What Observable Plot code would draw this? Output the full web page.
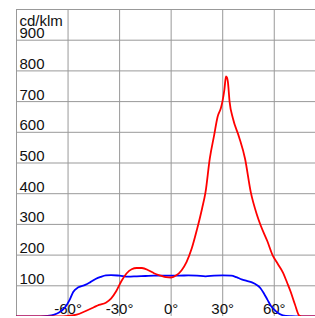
<!DOCTYPE html>
<html>
<head>
<meta charset="utf-8">
<script src="https://cdn.jsdelivr.net/npm/d3@7"></script>
<script src="https://cdn.jsdelivr.net/npm/@observablehq/plot@0.6"></script>
<style>
  html, body { margin: 0; padding: 0; background: #fff; }
  #chart svg { display: block; }
</style>
</head>
<body>
<div id="chart"></div>
<script>
// Tick values
const xTicks = [-90, -60, -30, 0, 30, 60, 90];
const xLabels = [-60, -30, 0, 30, 60];
const yTicks = [0, 100, 200, 300, 400, 500, 600, 700, 800, 900, 1000];
const yLabels = [100, 200, 300, 400, 500, 600, 700, 800, 900];
const unitLabel = "cd/klm";

// Red series (angle in degrees, intensity cd/klm)
const redAngles = [-90, -75, -65, -60, -55, -50, -45, -42, -38, -35, -32, -29, -26, -23, -20, -17, -13, -10, -6, -3, 0, 3, 6, 9, 12, 15, 18, 20, 22.5, 25, 27, 29, 30, 31, 31.9, 32.5, 33, 34, 36, 39.5, 43, 46.3, 50, 52, 56, 59, 62, 65, 67.5, 69.6, 72, 74.5, 76, 84];
const redValues = [0, 0, 0, 2, 6, 17, 30, 38, 45, 58, 82, 115, 140, 154, 158, 158, 150, 141, 133, 128, 127, 134, 150, 178, 222, 283, 352, 405, 515, 590, 650, 680, 705, 740, 782, 778, 765, 700, 644, 585, 514, 406, 330, 298, 245, 200, 172, 144, 110, 80, 40, 3, 0, 0];

// Blue series
const blueAngles = [-90, -80, -72, -68, -65, -62, -59, -57, -54, -50, -47, -44, -41, -38, -35, -30, -25, -20, -15, -10, -5, 0, 5, 10, 15, 20, 25, 30, 35, 38, 41, 44, 47, 50, 52, 54, 56, 58, 60, 62, 65, 70, 75, 84];
const blueValues = [0, 0, 2, 6, 14, 28, 55, 80, 95, 103, 112, 122, 129, 134, 135, 133, 130, 131, 132, 133, 133, 133, 133, 134, 133, 131, 133, 134, 133, 128, 121, 116, 111, 102, 92, 75, 55, 35, 22, 12, 4, 1, 0, 0];

const red = redAngles.map((a, i) => ({angle: a, value: redValues[i]}));
const blue = blueAngles.map((a, i) => ({angle: a, value: blueValues[i]}));

const font = "'Liberation Sans', Arial, sans-serif";

const chart = Plot.plot({
  width: 315,
  height: 318,
  marginLeft: 16,
  marginRight: 0,
  marginTop: 9,
  marginBottom: 2,
  style: {fontFamily: font, background: "#fff"},
  x: {domain: [-90, 84], axis: null},
  y: {domain: [0, 1000], axis: null},
  marks: [
    Plot.ruleX(xTicks, {x: d => d, stroke: "#999", strokeWidth: 1, clip: true}),
    Plot.ruleY(yTicks, {y: d => d, stroke: "#999", strokeWidth: 1, clip: true}),
    Plot.text(yLabels, {x: -90, y: d => d, text: d => String(d), textAnchor: "start", lineAnchor: "bottom", dx: 3, dy: -2, fontSize: 15, fill: "#111"}),
    Plot.text([unitLabel], {x: -90, y: 900, text: d => d, textAnchor: "start", lineAnchor: "bottom", dx: 3, dy: -14, fontSize: 15, fill: "#111"}),
    Plot.text(xLabels, {x: d => d, y: 0, text: d => d + "°", textAnchor: "middle", lineAnchor: "bottom", dy: -3, fontSize: 15, fill: "#111"}),
    Plot.line(blue, {x: "angle", y: "value", stroke: "#0000ff", strokeWidth: 1.8, curve: "monotone-x", clip: true}),
    Plot.line(red, {x: "angle", y: "value", stroke: "#ff0000", strokeWidth: 1.8, curve: "monotone-x", clip: true})
  ]
});
document.getElementById("chart").appendChild(chart);
</script>
</body>
</html>
